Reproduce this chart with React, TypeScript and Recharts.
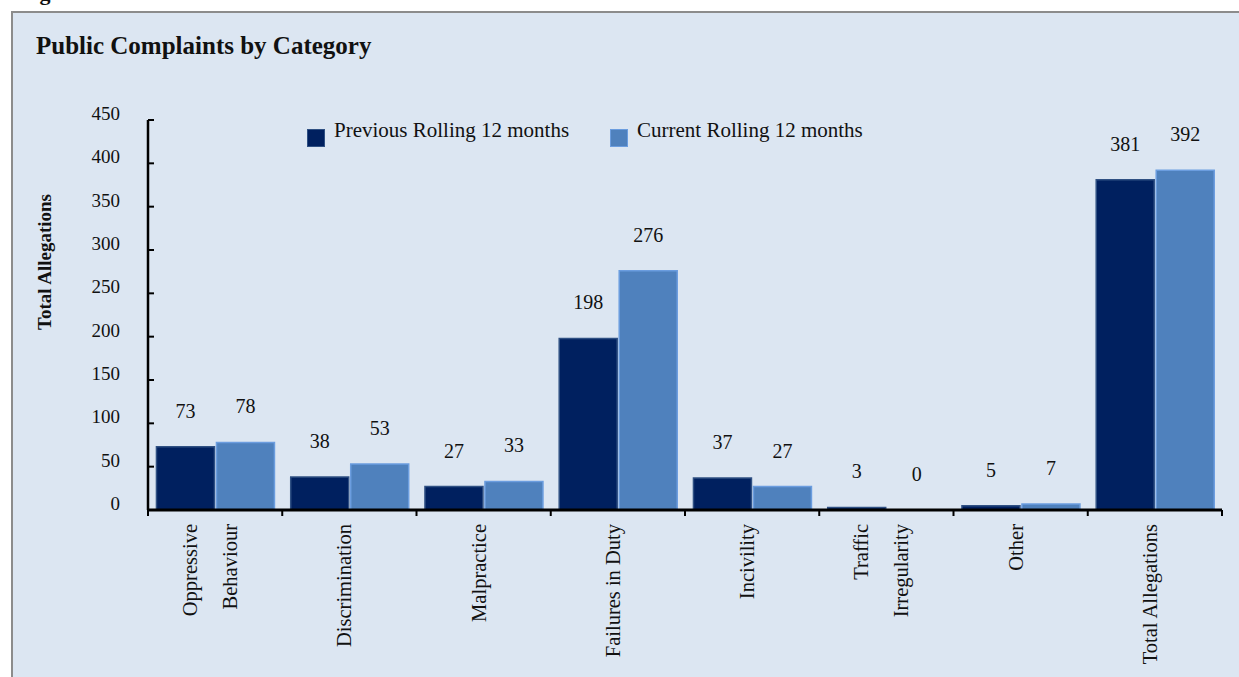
import React from 'react';
import { BarChart, Bar, XAxis, YAxis, Legend, LabelList, Rectangle } from 'recharts';

const categories = [
  'Oppressive\nBehaviour',
  'Discrimination',
  'Malpractice',
  'Failures in Duty',
  'Incivility',
  'Traffic\nIrregularity',
  'Other',
  'Total Allegations',
];
const previousValues = [73, 38, 27, 198, 37, 3, 5, 381];
const currentValues = [78, 53, 33, 276, 27, 0, 7, 392];
const seriesNames = ['Previous Rolling 12 months', 'Current Rolling 12 months'];
const yTicks = [0, 50, 100, 150, 200, 250, 300, 350, 400, 450];

const FONT = '"Liberation Serif", "Times New Roman", serif';
const DARK = '#00205f';
const DARK_STROKE = '#2f5083';
const LIGHT = '#4f81bd';
const LIGHT_STROKE = '#6b9ddf';
const TEXT = '#111';

// "edge" = right boundary index of each category (1..n), used by the numeric boundary axis
const data = categories.map((c, i) => ({
  category: c,
  previous: previousValues[i],
  current: currentValues[i],
  edge: i + 1,
}));

// ticks of the numeric "edge" axis: integers = category boundaries, halves = category centres
const edgeTicks: number[] = [];
for (let i = 0; i <= categories.length; i++) {
  edgeTicks.push(i);
  if (i < categories.length) edgeTicks.push(i + 0.5);
}

const EdgeTick = (props: any) => {
  const { x, y, payload } = props;
  const v = payload.value as number;
  if (Number.isInteger(v)) {
    return <line x1={x} x2={x} y1={y} y2={y + 6} stroke="#000" strokeWidth={2} />;
  }
  const lines = categories[Math.floor(v)].split('\n');
  return (
    <g>
      {lines.map((ln, i) => {
        const bx = x + 2 + (i - (lines.length - 1) / 2) * 40;
        const by = y + 14;
        return (
          <text
            key={i}
            transform={`translate(${bx},${by}) rotate(-90)`}
            textAnchor="end"
            fontSize={20.5}
            fontFamily={FONT}
            fill={TEXT}
          >
            {ln}
          </text>
        );
      })}
    </g>
  );
};

const YTick = (props: any) => {
  const { x, y, payload } = props;
  return (
    <g>
      <line x1={x} x2={x + 6} y1={y} y2={y} stroke="#000" strokeWidth={2} />
      <text x={x - 28} y={y} textAnchor="end" fontSize={19} fontFamily={FONT} fill={TEXT}>
        {payload.value}
      </text>
    </g>
  );
};

// zero-valued bars get a tiny placeholder height so their value label still appears,
// but the placeholder itself is not drawn
const BarShape = (props: any) => {
  if (Math.abs(props.height || 0) < 0.5) return <g />;
  return <Rectangle {...props} />;
};
const zeroMinSize = (v: any) => (Number(v) === 0 ? 0.2 : 0);

const LegendContent = () => {
  const fills = [DARK, LIGHT];
  const strokes = [DARK_STROKE, LIGHT_STROKE];
  return (
    <div style={{ display: 'flex', fontFamily: FONT, fontSize: 21, color: TEXT }}>
      {seriesNames.map((n, i) => (
        <div key={n} style={{ display: 'flex', alignItems: 'flex-start', width: 303 }}>
          <span
            style={{
              display: 'inline-block',
              width: 18,
              height: 18,
              marginTop: 11,
              boxSizing: 'border-box',
              background: fills[i],
              border: `1.5px solid ${strokes[i]}`,
            }}
          />
          <span style={{ marginLeft: 9, lineHeight: '24px', whiteSpace: 'nowrap' }}>{n}</span>
        </div>
      ))}
    </div>
  );
};

export default function App() {
  return (
    <div
      style={{
        position: 'absolute',
        left: 0,
        top: 0,
        width: 1239,
        height: 677,
        background: '#fff',
        overflow: 'hidden',
      }}
    >
      <div
        style={{
          position: 'absolute',
          left: 11,
          top: 11,
          width: 1300,
          height: 720,
          background: '#dce6f2',
          borderLeft: '2px solid #8c8c8c',
          borderTop: '2px solid #8c8c8c',
        }}
      />
      <div style={{ position: 'absolute', left: 0, top: 0 }}>
        <BarChart
          width={1239}
          height={677}
          data={data}
          margin={{ top: 120, right: 17, bottom: 7, left: 0 }}
          barCategoryGap="6.3%"
          barGap={2}
          style={{ fontFamily: FONT }}
        >
          <XAxis xAxisId="cat" dataKey="category" type="category" hide height={0} />
          <XAxis
            xAxisId="edges"
            dataKey="edge"
            type="number"
            domain={[0, 'dataMax']}
            ticks={edgeTicks}
            interval={0}
            height={160}
            tickSize={0}
            tickMargin={0}
            tickLine={false}
            axisLine={{ stroke: '#000', strokeWidth: 3 }}
            tick={<EdgeTick />}
          />
          <YAxis
            width={148}
            domain={[0, 450]}
            ticks={yTicks}
            interval={0}
            tickSize={0}
            tickMargin={0}
            tickLine={false}
            axisLine={{ stroke: '#000', strokeWidth: 2.5 }}
            tick={<YTick />}
          />
          <Legend
            layout="horizontal"
            align="center"
            verticalAlign="middle"
            wrapperStyle={{ top: 118, left: 307, width: 620, height: 32 }}
            content={<LegendContent />}
          />
          <Bar
            xAxisId="cat"
            dataKey="previous"
            name={seriesNames[0]}
            fill={DARK}
            stroke={DARK_STROKE}
            strokeWidth={1.5}
            minPointSize={zeroMinSize}
            shape={<BarShape />}
            isAnimationActive={false}
          >
            <LabelList dataKey="previous" position="top" offset={29} fill={TEXT} fontSize={20} fontFamily={FONT} />
          </Bar>
          <Bar
            xAxisId="cat"
            dataKey="current"
            name={seriesNames[1]}
            fill={LIGHT}
            stroke={LIGHT_STROKE}
            strokeWidth={1.5}
            minPointSize={zeroMinSize}
            shape={<BarShape />}
            isAnimationActive={false}
          >
            <LabelList dataKey="current" position="top" offset={29} fill={TEXT} fontSize={20} fontFamily={FONT} />
          </Bar>
        </BarChart>
      </div>
      <svg
        width={1239}
        height={677}
        style={{ position: 'absolute', left: 0, top: 0, pointerEvents: 'none' }}
      >
        <text x={20} y={0} fontSize={22} fontWeight="bold" fontFamily={FONT} fill={TEXT}>
          Figure
        </text>
        <text x={36} y={54} fontSize={25} fontWeight="bold" fontFamily={FONT} fill={TEXT}>
          Public Complaints by Category
        </text>
        <text
          transform="translate(51,262) rotate(-90)"
          textAnchor="middle"
          fontSize={19}
          fontWeight="bold"
          fontFamily={FONT}
          fill={TEXT}
        >
          Total Allegations
        </text>
      </svg>
    </div>
  );
}
